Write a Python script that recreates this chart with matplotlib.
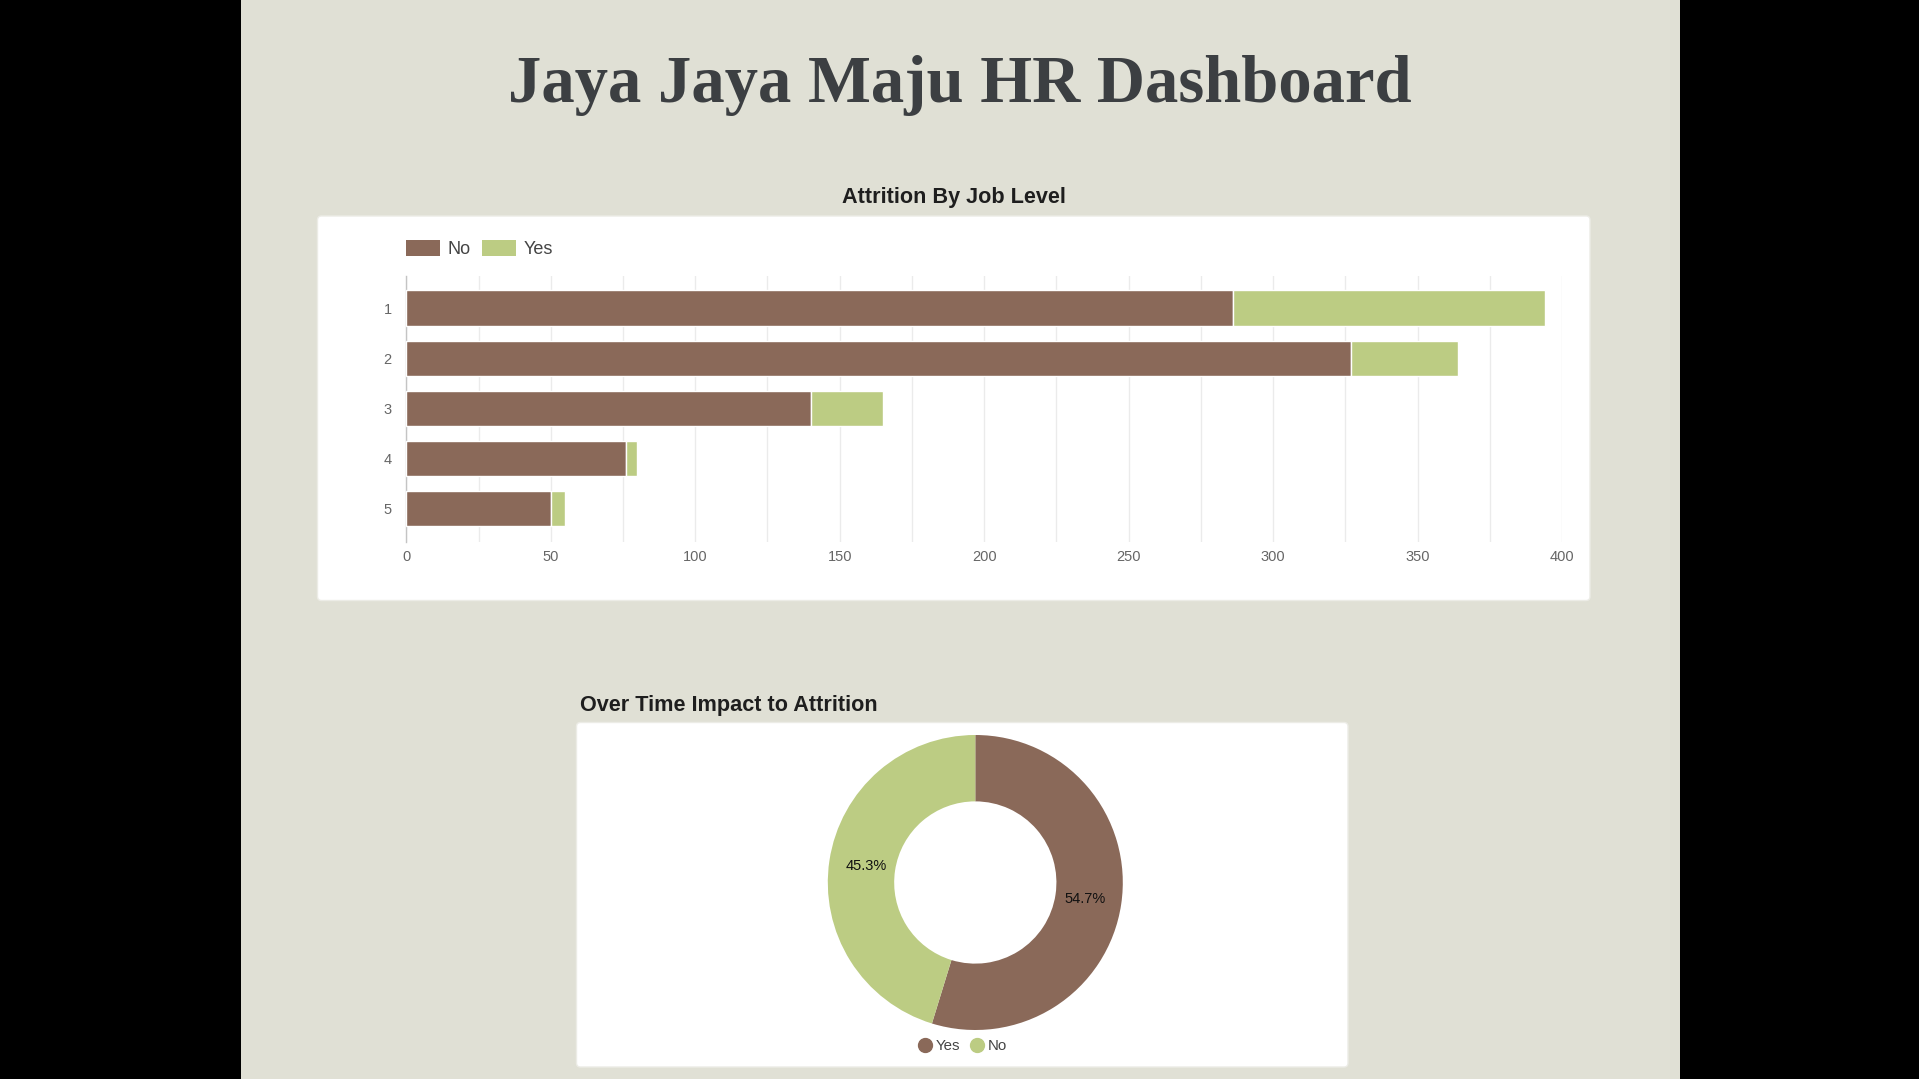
import matplotlib
matplotlib.use('Agg')
import matplotlib.pyplot as plt
from matplotlib.patches import FancyBboxPatch, Rectangle, Patch
from matplotlib.lines import Line2D

plt.rcParams['font.family'] = ['Liberation Sans', 'DejaVu Sans']

# ---- data ----
job_levels = ['1', '2', '3', '4', '5']
attrition_no = [286, 327, 140, 76, 50]
attrition_yes = [108, 37, 25, 4, 5]
series_labels = ['No', 'Yes']
overtime_labels = ['Yes', 'No']
overtime_counts = [98, 81]
x_ticks = list(range(0, 401, 25))
x_labeled = list(range(0, 401, 50))

W, H = 1919, 1079
BG = '#E0E0D5'
BROWN = '#8A6959'
GREEN = '#BCCC83'

fig = plt.figure(figsize=(W / 100, H / 100), dpi=100)
fig.patch.set_facecolor('black')


def px_axes(x0, y0, x1, y1, **kw):
    return fig.add_axes([x0 / W, 1 - y1 / H, (x1 - x0) / W, (y1 - y0) / H], **kw)


# background layer in pixel coordinates
bg = px_axes(0, 0, W, H)
bg.set_xlim(0, W)
bg.set_ylim(H, 0)
bg.axis('off')
bg.add_patch(Rectangle((241, 0), 1680 - 241, H, facecolor=BG, edgecolor='none'))
bg.add_patch(FancyBboxPatch((317.5, 216), 1590 - 317.5, 600.5 - 216,
                            boxstyle='round,pad=0,rounding_size=4',
                            facecolor='white', edgecolor='#ECECE6', lw=1))
bg.add_patch(FancyBboxPatch((576.5, 722.5), 1348 - 576.5, 1067 - 722.5,
                            boxstyle='round,pad=0,rounding_size=4',
                            facecolor='white', edgecolor='#ECECE6', lw=1))

bg.text(960, 101.7, 'Jaya Jaya Maju HR Dashboard', family='Liberation Serif',
        weight='bold', fontsize=48, color='#3C3F42', ha='center', va='baseline')
bg.text(953.6, 202.7, 'Attrition By Job Level', weight='bold', fontsize=15.6,
        color='#1E1E1E', ha='center', va='baseline')
bg.text(580.4, 711, 'Over Time Impact to Attrition', weight='bold', fontsize=15.6,
        color='#1E1E1E', ha='left', va='baseline')

# ---- bar chart ----
ax = px_axes(406.3, 276, 1562, 542)
ax.set_facecolor('none')
ypos = [i + 1 for i in range(len(job_levels))]
ax.barh(ypos, attrition_no, height=0.7, color=BROWN, edgecolor='white', lw=1,
        label=series_labels[0], zorder=3)
ax.barh(ypos, attrition_yes, left=attrition_no, height=0.7, color=GREEN,
        edgecolor='white', lw=1, label=series_labels[1], zorder=3)
ax.set_xlim(0, 400)
ax.set_ylim(5.664, 0.362)
ax.set_yticks(ypos, job_levels)
ax.set_xticks(x_ticks, [str(t) if t in x_labeled else '' for t in x_ticks])
ax.tick_params(axis='both', length=0, labelsize=10.5, labelcolor='#666666')
ax.tick_params(axis='x', pad=6)
ax.tick_params(axis='y', pad=10.5)
ax.grid(axis='x', color='#EBEBEB', lw=1, zorder=0)
for s in ['top', 'right', 'bottom']:
    ax.spines[s].set_visible(False)
ax.spines['left'].set_color('#C4C4C4')
ax.spines['left'].set_linewidth(1)

bar_handles = [Patch(facecolor=BROWN, edgecolor='none'), Patch(facecolor=GREEN, edgecolor='none')]
ax.legend(bar_handles, series_labels, loc='upper left', bbox_to_anchor=(406, 240.5),
          bbox_transform=bg.transData, frameon=False, fontsize=13, ncol=2,
          handlelength=1.88, handleheight=0.95, handletextpad=0.44,
          columnspacing=0.6, borderpad=0, borderaxespad=0, labelcolor='#444444')

# ---- donut ----
cx, cy, r = 975.3, 882.5, 147.5
dax = px_axes(cx - r, cy - r, cx + r, cy + r)
wedges, texts, autotexts = dax.pie(
    overtime_counts, colors=[BROWN, GREEN], startangle=90, counterclock=False,
    radius=1, wedgeprops=dict(width=0.45, linewidth=0),
    autopct='%.1f%%', pctdistance=0.75, textprops=dict(fontsize=10.5, color='#111111'))
dax.set_xlim(-1, 1)
dax.set_ylim(-1, 1)
dax.set_aspect('equal')

donut_handles = [Line2D([], [], marker='o', ls='', ms=10, color=BROWN),
                 Line2D([], [], marker='o', ls='', ms=10, color=GREEN)]
dax.legend(donut_handles, overtime_labels, loc='center', bbox_to_anchor=(963, 1046),
           bbox_transform=bg.transData, frameon=False, fontsize=10.8, ncol=2,
           handlelength=0.8, handletextpad=0.3, columnspacing=0.7,
           borderpad=0, borderaxespad=0, labelcolor='#444444')

fig.savefig('out.png', dpi=100, facecolor=fig.get_facecolor())
